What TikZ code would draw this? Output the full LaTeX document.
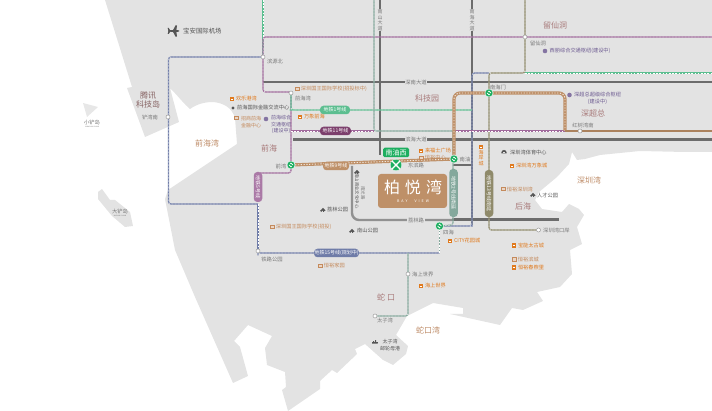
\documentclass[tikz,border=0pt]{standalone}
\usepackage{fontspec}
\setmainfont{Noto Sans CJK SC}
\usetikzlibrary{positioning}
\usetikzlibrary{shapes,calc,backgrounds}
\definecolor{landgray}{HTML}{E3E3E3}
\definecolor{roadgray}{HTML}{6C6C6C}
\definecolor{lineblue}{HTML}{6F7CA8}
\definecolor{linegreen}{HTML}{5CBE90}
\definecolor{linepurple}{HTML}{A06A9C}
\definecolor{lineplum}{HTML}{7C3F6C}
\definecolor{lineteal}{HTML}{84A89C}
\definecolor{lineolive}{HTML}{8F8A6A}
\definecolor{linebrown}{HTML}{BE9068}
\definecolor{metrogreen}{HTML}{1DAE60}
\definecolor{txtrose}{HTML}{A87A7A}
\definecolor{txtbay}{HTML}{BE8C68}
\definecolor{txtgray}{HTML}{7A7A7A}
\definecolor{txtdark}{HTML}{555555}
\definecolor{txtorange}{HTML}{E07A1E}
\definecolor{txtsand}{HTML}{C48A5C}
\definecolor{txtpurple}{HTML}{6E5C92}
\tikzstyle{road}=[draw=roadgray,line width=2.4pt]
\tikzstyle{roadlight}=[draw=roadgray!75,line width=2.4pt,rounded corners=7pt]
\tikzstyle{metro}=[draw=#1,line width=1.2pt,rounded corners=2.5pt,postaction={draw=white,line width=.4pt,dash pattern=on 1.6pt off 1.6pt}]
\tikzstyle{metrothick}=[draw=#1,line width=3.2pt,rounded corners=6pt,postaction={draw=white!80!#1,line width=.9pt,dash pattern=on 1.2pt off 1.6pt}]
\tikzstyle{stop}=[draw=gray!80,fill=white,circle,minimum size=4pt,inner sep=0pt,line width=.5pt]
\tikzstyle{swap}=[fill=metrogreen,draw=white,line width=.3pt,circle,minimum size=8pt,inner sep=0pt,path picture={\draw[white,line width=.8pt,dash pattern=on 3.6pt off 1.8pt] (path picture bounding box.center) circle (1.9pt);}]
\tikzstyle{pill}=[fill=#1,text=white,rounded corners=3.5pt,inner sep=0pt,minimum height=8.5pt,font=\fontsize{5}{6}\selectfont]
\tikzstyle{area}=[text=txtrose,inner sep=0pt,font=\fontsize{8}{9}\selectfont]
\tikzstyle{bay}=[text=txtbay,inner sep=0pt,font=\fontsize{8}{9}\selectfont]
\tikzstyle{small}=[text=txtgray,inner sep=0pt,font=\fontsize{5.3}{6}\selectfont]
\tikzstyle{roadname}=[text=txtgray,fill=landgray,inner sep=.8pt,font=\fontsize{5.3}{6}\selectfont]
\tikzstyle{dark}=[text=txtdark,inner sep=0pt,anchor=west,font=\fontsize{5.2}{6}\selectfont]
\tikzstyle{shop}=[text=txtorange,inner sep=0pt,anchor=west,font=\fontsize{5.2}{6}\selectfont]
\tikzstyle{sand}=[text=txtsand,inner sep=0pt,anchor=west,font=\fontsize{5.2}{6}\selectfont]
\tikzstyle{hub}=[text=txtpurple,inner sep=0pt,anchor=west,font=\fontsize{5.2}{6}\selectfont]
\tikzstyle{shopbox}=[fill=txtorange,minimum size=4.4pt,inner sep=0pt,path picture={\fill[white] ([xshift=-1.4pt,yshift=-.4pt]path picture bounding box.center) rectangle ++(2.8pt,.8pt);}]
\tikzstyle{sandbox}=[draw=txtsand,fill=txtsand!35,minimum size=3.6pt,inner sep=0pt,line width=.6pt]
\tikzstyle{hubdot}=[fill=txtpurple!85,circle,minimum size=4.6pt,inner sep=0pt]
\tikzset{
  treeicon/.pic={\fill[txtdark] (0,-.6) circle (1.5) (-1.8,.8) circle (1.1) (1.6,.4) circle (.9);
    \draw[txtdark,line width=.5pt] (0,0) -- (0,2.4);},
  planeicon/.pic={\fill[txtdark] (-6,-.7) -- (4,-.9) .. controls (6,-.6) and (6,.6) .. (4,.9) -- (-6,.7) -- cycle
    (-1,-.8) -- (1.5,-5.6) -- (3,-5.6) -- (2.4,-.8) -- cycle
    (-1,.8) -- (1.5,5.6) -- (3,5.6) -- (2.4,.8) -- cycle
    (-5.6,-.6) -- (-6.4,-3) -- (-5.2,-3) -- (-3.8,-.6) -- cycle
    (-5.6,.6) -- (-6.4,3) -- (-5.2,3) -- (-3.8,.6) -- cycle;},
  domeicon/.pic={\fill[txtdark] (-2.6,1.4) -- (-2.6,.4) arc (180:360:2.6 and 2.4) -- (2.6,1.4) -- cycle;
    \fill[landgray] (-.7,1.4) rectangle (.7,.2);},
  shipicon/.pic={\fill[txtdark] (-3,.2) -- (3,.2) -- (2.6,1.6) -- (-3,1.6) -- cycle (-2,.2) rectangle (-1,-.8) (0,.2) rectangle (1,-1.8);}
}
\begin{document}
\begin{tikzpicture}[x=1pt,y=-1pt]
\useasboundingbox (0,0) rectangle (712,411);
% stations
\node [stop] (binyuan) at (263,57) {};
\node [stop] (hupo) at (168,117) {};
\node [stop] (qianhaiwan) at (291,93) {};
\node [swap] (qianwan) at (291,165) {};
\node [swap] (nanyou) at (454,159) {};
\node [swap] (sihai) at (439.5,226) {};
\node [swap] (houhaimen) at (489,93) {};
\node [stop] (tielu) at (258,251) {};
\node [stop] (liuxian) at (525,37) {};
\node [stop] (hongshu) at (580,131) {};
\node [stop] (kouan) at (538.5,230) {};
\node [stop] (haishang) at (408,274) {};
\node [stop] (taizi) at (375,316) {};
% corners
\coordinate (topgreen) at (263,0);
\coordinate (blueA) at (168.5,57);
\coordinate (blueB) at (168.5,204);
\coordinate (blueC) at (258,204);
\coordinate (purpleA) at (263,37);
\coordinate (purpleB) at (712,37);
\coordinate (purpleC) at (263,92);
\coordinate (purpleD) at (291,92);
\coordinate (purpleE) at (291,173);
\coordinate (purpleF) at (258,173);
\coordinate (tealtop) at (374,0);
\coordinate (tealA) at (374,131);
\coordinate (tealB) at (453,131);
\coordinate (tealC) at (453,225);
\coordinate (plumA) at (291,131);
\coordinate (plumB) at (566,131);
\coordinate (brownend) at (712,131);
\coordinate (greenA) at (292,110);
\coordinate (greenB) at (472,110);
\coordinate (l15A) at (258,253);
\coordinate (l15B) at (439.5,253);
\coordinate (l15C) at (472,224.5);
\coordinate (l15D) at (472,73);
\coordinate (l15E) at (489,73);
\coordinate (olivetop) at (525,0);
\coordinate (oliveA) at (525,73);
\coordinate (oliveB) at (489,230);
\coordinate (greenend) at (712,73);
\coordinate (tealfork) at (408,253);
\coordinate (tealend) at (408,316);
\coordinate (thickA) at (454,93);
\coordinate (thickB) at (565,93);
\coordinate (thickC) at (565,131);
\begin{scope}[on background layer]
% land and islands
\fill[landgray] (105,0) -- (132,87) -- (127,88) -- (145,137) -- (179,122) -- (170,88)
  .. controls (178,96) and (184,104) .. (190,109) .. controls (197,104) and (205,102) .. (213,102)
  .. controls (224,103) and (232,108) .. (235,118) -- (237,144) -- (168,190) -- (165,199) -- (175,250)
  -- (195,297) -- (233,383) -- (248,376) -- (240,347) -- (234,341) -- (248,325) -- (272,336) -- (265,348)
  -- (267,365) -- (285,372) -- (286,387) -- (282,390) -- (288,411) -- (320,389) -- (320,381) -- (332,370)
  -- (337,373) -- (357,354) -- (355,349) -- (365,344) -- (383,360) -- (393,365) -- (406,354) -- (408,346)
  -- (396,335) -- (407,316) -- (433,303) -- (463,308) -- (463,314) -- (450,314) -- (500,325) -- (512,308)
  -- (523,310) -- (543,301) -- (537,292) -- (560,287) -- (572,274) -- (570,250) -- (582,244) -- (577,227)
  -- (584,215) -- (579,209) -- (569,204) -- (562,212) -- (542,209) -- (535,200) -- (539,192) -- (557,177)
  -- (569,164) -- (572,152) -- (577,160) -- (585,159) -- (600,155) -- (640,151) -- (685,152) -- (712,152)
  -- (712,0) -- cycle;
\fill[landgray!85!white] (83,103) -- (98,107) -- (87,117) -- cycle;
\fill[landgray] (98,192) -- (102,189) -- (110,200) -- (115,200) -- (130,212) -- (133,226) -- (125,227)
  -- (112,216) -- (98,199) -- cycle;
% roads
\draw[road] (380,0) -- (380,155);
\draw[road] (472,0) -- (472,225);
\draw[road] (263,82) -- (712,82);
\draw[road] (293,139.5) -- (712,139.5);
\draw[road] (453,165) -- (472,165);
\draw[roadlight] (352,166) -- (352,220) -- (452,220);
\draw[road] (452,219.5) -- (559,219.5);
% metro lines
\draw[metro=linegreen] (topgreen) -- (binyuan);
\draw[metro=lineblue] (binyuan) -- (blueA) -- (blueB) -- (blueC);
\draw[metro=linepurple] (purpleB) -- (purpleA) -- (purpleC) -- (purpleD) -- (purpleE) -- (purpleF) -- ++(0,8);
\draw[metro=lineblue] (blueC) -- (tielu);
\draw[metro=lineblue] (tielu) |- (l15A) -- (l15B);
\draw[metro=lineteal] (l15B) -- (sihai);
\draw[metro=lineblue] (sihai) -| (l15C) -- (l15D) -- (l15E);
\draw[metro=lineolive] (olivetop) -- (oliveA) -- (l15E) -- (oliveB) -- (kouan);
\draw[metro=linegreen] (oliveA) -- (greenend);
\draw[metro=linegreen] (purpleD) |- (greenA) -- (greenB);
\draw[metro=linepurple] (plumA) -- (tealA);
\draw[metro=linepurple] (tealB) -- (plumB);
\draw[metro=lineteal] (tealtop) -- (tealA) -- (tealB);
\draw[metro=lineteal] (tealB) -- (tealC) -- (sihai);
\draw[metro=lineteal] (tealfork) -- (tealend) -- (taizi);
\draw[metrothick=linebrown] (nanyou) -- (thickA) -- (thickB) -- (thickC);
\draw[metrothick=linebrown] (qianwan) -- (nanyou);
\draw[draw=linebrown!90!black,line width=1.5pt] (thickC) -- (brownend);
\end{scope}
% pills
\node [pill=linegreen,minimum width=30pt] (line1) at (335,110) {地铁1号线};
\node [pill=lineplum,minimum width=31pt] (line11) at (335.5,131) {地铁11号线};
\node [pill=linebrown,minimum width=26pt] (line9) at (336,166) {地铁9号线};
\node [pill=linepurple!90,minimum width=30pt,rotate=-90] (line5) at (258,187) {地铁5号线};
\node [pill=lineteal,minimum width=48pt,rotate=-90] (line2) at (453.5,193) {地铁2号线南延};
\node [pill=lineolive,minimum width=47pt,rotate=-90] (line13) at (489,193.5) {地铁13号线南延};
\node [pill=lineblue,minimum width=45pt] (line15) at (336.5,253) {地铁15号线(规划中)};
% project
\node [swap,minimum size=11.5pt,path picture={\draw[white,line width=1.1pt] (path picture bounding box.south west) -- (path picture bounding box.north east) (path picture bounding box.north west) -- (path picture bounding box.south east);\fill[white] (path picture bounding box.center) circle (1.5pt);}] (nanyouxi) at (396,165) {};
\node [fill=metrogreen,text=white,rounded corners=1.5pt,minimum width=26pt,minimum height=9.5pt,inner sep=0pt,font=\fontsize{7}{8}\selectfont] (nanyoubox) at (396,152.5) {南油西};
\node [fill=linebrown,rounded corners=3pt,minimum width=69pt,minimum height=34pt,inner sep=0pt] (project) at (412.5,191) {};
\node [text=white,inner sep=0pt,font=\fontsize{16}{18}\selectfont] (projectname) at (413,187) {柏\hspace{5pt}悦\hspace{5pt}湾};
\node [text=white,inner sep=0pt,font=\fontsize{3.6}{4}\selectfont] (projecten) at (413,201) {B\hspace{2pt}A\hspace{2pt}Y\hspace{7pt}V\hspace{2pt}I\hspace{2pt}E\hspace{2pt}W};
% road names
\node [roadname,align=center,font=\fontsize{5}{5.4}\selectfont] (nanshan) at (380,20) {南\\山\\大\\道};
\node [roadname,align=center,font=\fontsize{5}{5.4}\selectfont] (nanhai) at (472,20) {南\\海\\大\\道};
\foreach \nm/\x/\y/\txt in {shennan/416/82/深南大道,binhai/416/139.5/滨海大道,lilin/416/220/荔林路,dongbin/416/165/东滨路}
  \node [roadname] (\nm) at (\x,\y) {\txt};
% area names
\foreach \nm/\x/\y/\txt in {keji/427/98/科技园,liu/555/25/留仙洞,shenchao/593/113/深超总,qianhai/269/148/前海,houhai/523/206/后海,shekou/386/297/蛇\hspace{2pt}口}
  \node [area] (\nm) at (\x,\y) {\txt};
\node [area,align=center,text=txtrose!80!black] (tengxun) at (148,99.5) {腾讯\\科技岛};
\foreach \nm/\x/\y/\txt in {qhbay/207/143/前海湾,szbay/589/180/深圳湾,skbay/428/330/蛇口湾}
  \node [bay] (\nm) at (\x,\y) {\txt};
% station names
\foreach \nm/\x/\y/\txt in {lhu/150/117/铲湾南,lbin/275/61/滨源北,lqhw/303/98/前海湾,lqw/281/166/前湾,lny/465/159/南油,lhm/498/87/南海门,lsh/448.5/232/四海,ltl/272/259/铁路公园,lly/538/43/留仙洞,lhs/583/125/红树湾南,ltz/385/320/太子湾,xiaochan/92/122/小铲岛,dachan/120/211/大铲岛}
  \node [small] (\nm) at (\x,\y) {\txt};
\node [small,font=\fontsize{1.6}{2}\selectfont] (xiaochanen) at (92,127) {XIAOCHAN ISLAND};
\node [small,font=\fontsize{1.6}{2}\selectfont] (dachanen) at (120,216) {DACHAN ISLAND};
\node [small,anchor=west] (lka) at (543,230) {深圳湾口岸};
\node [small,anchor=west] (lhs2) at (412,274.5) {海上世界};
% orange shops
\foreach \nm/\x/\y/\txt in {huanle/232/99/欢乐港湾,wanxq/300/117/万象前海,laifu/421/151/来福士广场,wanxs/512/166/深圳湾万象城,city/450/241/CITY花园城,baone/514/245.5/宝能太古城,chun/514/267.5/恒裕春煦里,hsj/421/286/海上世界}
{ \node [shopbox] (i\nm) at (\x,\y) {};
  \node [shop,right=1.4pt of i\nm] (\nm) {\txt}; }
\node [shopbox] (ihai) at (481,147) {};
\node [text=txtorange,below=.5pt of ihai,inner sep=0pt,align=center,font=\fontsize{5}{5.4}\selectfont] (hai) {海\\岸\\城};
% sand coloured buildings
\foreach \nm/\x/\y/\txt in {king/297/89/深圳国王国际学校(招投标中),king2/272/227/深圳国王国际学校(招投),yuzx/421/158/恒裕中心,yusz/503/189/恒裕深圳湾,yubin/514/259.5/恒裕滨城,yujia/320/266/恒裕家园}
{ \node [sandbox] (i\nm) at (\x,\y) {};
  \node [sand,right=1.6pt of i\nm] (\nm) {\txt}; }
\node [sandbox] (izs) at (236,118) {};
\node [sand,align=center,anchor=center,font=\fontsize{5}{7}\selectfont] (zs) at (251,122) {招商前海\\金融中心};
% hubs
\node [hubdot] (h1) at (266,119) {};
\node [hub,align=center,anchor=center,font=\fontsize{5}{6.3}\selectfont] (hubqh) at (281,124.5) {前海综合\\交通枢纽\\(建设中)};
\node [hubdot] (h2) at (545,51) {};
\node [hub,right=2pt of h2] (hubxl) {西丽综合交通枢纽(建设中)};
\node [hubdot] (h3) at (569.5,95) {};
\node [hub,right=2pt of h3] (hubsc) {深超总超级综合枢纽};
\node [hub,anchor=center] (hubsc2) at (597.5,102) {(建设中)};
% dark places
\node [dark] (airport) at (183,31) {\fontsize{6.4}{7}\selectfont 宝安国际机场};
\pic at (174,31) {planeicon};
\node [dark] (finance) at (237,108) {前海国际金融交流中心};
\fill[txtdark] (233,108) circle (1.7pt);
\pic at (323,210) {treeicon};
\node [dark] (lilinpark) at (327,210) {荔林公园};
\pic at (352,231) {treeicon};
\node [dark] (nspark) at (357,231) {南山公园};
\pic at (533,195) {treeicon};
\node [dark] (talent) at (537,196) {人才公园};
\pic at (504,152) {domeicon};
\node [dark] (sport) at (510,152) {深圳湾体育中心};
\pic at (375,342) {shipicon};
\node [dark,align=center,anchor=center,font=\fontsize{5}{7}\selectfont] (cruise) at (390,345) {太子湾\\邮轮母港};
\pic at (357,172) {treeicon};
\node [dark,rotate=-90,anchor=center,font=\fontsize{4.4}{5}\selectfont] (nswh) at (357,191) {南山商业文化中心};
\node [small,rotate=-90,font=\fontsize{4.4}{5}\selectfont] (nanguang) at (363,193) {南光路};
\end{tikzpicture}
\end{document}
